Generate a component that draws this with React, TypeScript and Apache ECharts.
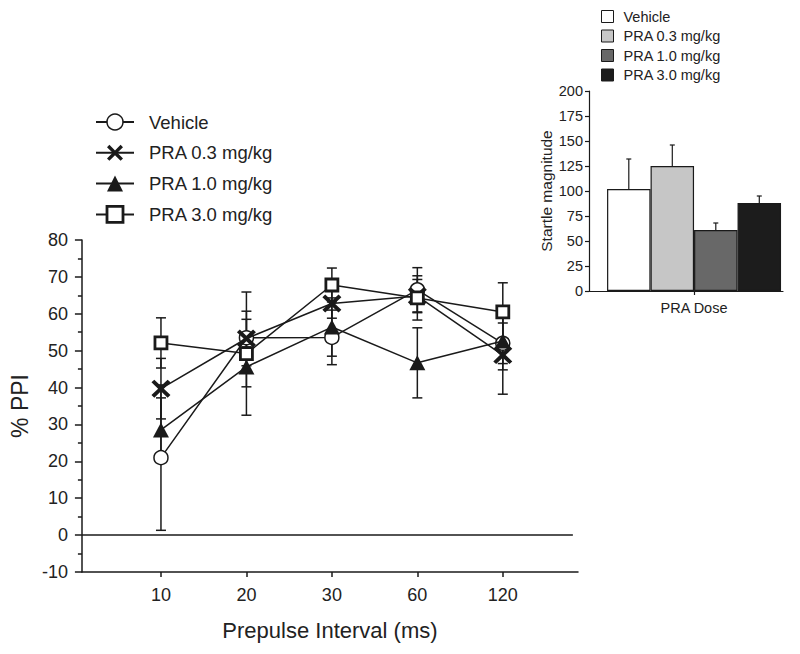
import React, { useEffect, useRef } from 'react';
import * as echarts from 'echarts';

// ---- data ----
const intervals = ['10', '20', '30', '60', '120'];
const seriesNames = ['Vehicle', 'PRA 0.3 mg/kg', 'PRA 1.0 mg/kg', 'PRA 3.0 mg/kg'];

const vehicleMean = [21, 53.5, 53.6, 66.5, 52];
const vehicleSem = [19.7, 5, 7.4, 6, 5.5];
const pra03Mean = [39.7, 53.3, 62.8, 64.8, 48.8];
const pra03Sem = [8.2, 7.4, 4, 4.5, 10.6];
const pra10Mean = [28.5, 45.6, 56.4, 46.7, 52.6];
const pra10Sem = [8.7, 5.4, 7.9, 9.5, 7.8];
const pra30Mean = [52.1, 49.2, 67.8, 64.3, 60.5];
const pra30Sem = [6.8, 16.7, 4.6, 6, 7.9];

const startleMean = [102, 125, 61, 88];
const startleSem = [30, 21, 7, 7];

// ---- styles ----
const FONT = 'Liberation Sans, Arial, Helvetica, sans-serif';
const INK = '#1a1a1a';
const startleColors = ['#ffffff', '#c6c6c6', '#686868', '#1c1c1c'];
const X_PATH =
  'path://M0,3 L3,0 L10,7 L17,0 L20,3 L13,10 L20,17 L17,20 L10,13 L3,20 L0,17 L7,10 Z';

const means = [vehicleMean, pra03Mean, pra10Mean, pra30Mean];
const sems = [vehicleSem, pra03Sem, pra10Sem, pra30Sem];

const symbolDefs = [
  { symbol: 'circle', symbolSize: 14, itemStyle: { color: '#ffffff', borderColor: INK, borderWidth: 1.5 } },
  { symbol: X_PATH, symbolSize: [19, 18], itemStyle: { color: INK, borderColor: INK, borderWidth: 0 } },
  { symbol: 'triangle', symbolSize: [16, 15], itemStyle: { color: INK, borderColor: INK, borderWidth: 0 } },
  { symbol: 'rect', symbolSize: 12, itemStyle: { color: '#ffffff', borderColor: INK, borderWidth: 2.8 } },
];

export default function App() {
  const ref = useRef<HTMLDivElement>(null);

  useEffect(() => {
    document.body.style.margin = '0';
    if (!ref.current) return;
    const chart = echarts.init(ref.current, null, { renderer: 'svg' });

    const errData: number[][] = [];
    means.forEach((m, s) => {
      m.forEach((v, i) => {
        errData.push([i + 1, v - sems[s][i], v + sems[s][i]]);
      });
    });

    const lineSeries = seriesNames.map((name, s) => ({
      name,
      type: 'line',
      xAxisIndex: 0,
      yAxisIndex: 0,
      data: means[s].map((v, i) => [i + 1, v]),
      symbol: symbolDefs[s].symbol,
      symbolSize: symbolDefs[s].symbolSize,
      itemStyle: symbolDefs[s].itemStyle,
      lineStyle: { color: INK, width: 1.5 },
      showAllSymbol: true,
      z: 3 + s,
      markLine:
        s === 0
          ? {
              silent: true,
              symbol: 'none',
              label: { show: false },
              lineStyle: { color: INK, width: 1.5, type: 'solid' },
              data: [[{ coord: [0.075, 0] }, { coord: [5.82, 0] }]],
            }
          : undefined,
    }));

    const option: any = {
      animation: false,
      backgroundColor: '#ffffff',
      textStyle: { fontFamily: FONT },
      grid: [
        { left: 76, top: 240, width: 502, height: 332, containLabel: false },
        { left: 589, top: 91, width: 194, height: 200, containLabel: false },
      ],
      legend: [
        {
          orient: 'vertical',
          left: 95,
          top: 112.5,
          padding: 0,
          itemWidth: 38,
          itemHeight: 20,
          itemGap: 11.8,
          selectedMode: false,
          textStyle: { fontSize: 18.5, color: '#222', fontFamily: FONT, padding: [0, 0, 0, 10] },
          data: seriesNames.map((name, i) => ({
            name,
            itemStyle: { borderWidth: symbolDefs[i].itemStyle.borderWidth },
          })),
        },
        {
          orient: 'vertical',
          left: 601,
          top: 9,
          padding: 0,
          itemWidth: 12,
          itemHeight: 12,
          itemGap: 4.5,
          selectedMode: false,
          textStyle: { fontSize: 14.5, color: '#222', fontFamily: FONT, padding: [0, 0, 0, 5] },
          data: seriesNames.map((name, i) => ({
            name,
            icon: 'rect',
            itemStyle: { color: startleColors[i], borderColor: INK, borderWidth: 1 },
          })),
        },
      ],
      xAxis: [
        {
          type: 'value',
          gridIndex: 0,
          min: 0.075,
          max: 5.88,
          name: 'Prepulse Interval (ms)',
          nameLocation: 'middle',
          nameGap: 47,
          nameTextStyle: { fontSize: 22, color: '#222', fontFamily: FONT },
          axisLine: { onZero: false, lineStyle: { color: INK, width: 1.5 } },
          axisTick: { show: true, length: 5, customValues: [1, 2, 3, 4, 5], lineStyle: { color: INK, width: 1.5 } },
          axisLabel: {
            customValues: [1, 2, 3, 4, 5],
            fontSize: 18,
            color: '#222',
            margin: 14,
            fontFamily: FONT,
            formatter: (v: number) => intervals[Math.round(v) - 1] ?? '',
          },
          splitLine: { show: false },
        },
        {
          type: 'value',
          gridIndex: 1,
          min: -0.915,
          max: 3.545,
          axisLine: { onZero: false, lineStyle: { color: INK, width: 1.2 } },
          axisTick: { show: true, length: 4, customValues: [1.5], lineStyle: { color: INK, width: 1.2 } },
          axisLabel: {
            customValues: [1.5],
            fontSize: 14.5,
            color: '#222',
            margin: 9,
            fontFamily: FONT,
            formatter: () => 'PRA Dose',
          },
          splitLine: { show: false },
        },
      ],
      yAxis: [
        {
          type: 'value',
          gridIndex: 0,
          min: -10,
          max: 80,
          interval: 10,
          name: '% PPI',
          nameLocation: 'middle',
          nameGap: 48,
          nameTextStyle: { fontSize: 23, color: '#222', fontFamily: FONT },
          axisLine: { show: true, onZero: false, lineStyle: { color: INK, width: 1.5 } },
          axisTick: { show: true, length: 7, lineStyle: { color: INK, width: 1.5 } },
          minorTick: { show: true, splitNumber: 2, length: 4, lineStyle: { color: INK, width: 1.5 } },
          axisLabel: { fontSize: 18, color: '#222', margin: 14, fontFamily: FONT },
          splitLine: { show: false },
          minorSplitLine: { show: false },
        },
        {
          type: 'value',
          gridIndex: 1,
          min: 0,
          max: 200,
          interval: 25,
          name: 'Startle magnitude',
          nameLocation: 'middle',
          nameGap: 34,
          nameTextStyle: { fontSize: 15.5, color: '#222', fontFamily: FONT },
          axisLine: { show: true, onZero: false, lineStyle: { color: INK, width: 1.2 } },
          axisTick: { show: true, length: 4, lineStyle: { color: INK, width: 1.2 } },
          axisLabel: { fontSize: 14.5, color: '#222', margin: 6, fontFamily: FONT },
          splitLine: { show: false },
        },
      ],
      series: [
        {
          name: 'SEM',
          type: 'custom',
          xAxisIndex: 0,
          yAxisIndex: 0,
          data: errData,
          encode: { x: 0, y: [1, 2] },
          z: 1,
          silent: true,
          renderItem: (params: any, api: any) => {
            const x = api.value(0);
            const lo = api.coord([x, api.value(1)]);
            const hi = api.coord([x, api.value(2)]);
            const cap = 5;
            const style = { stroke: INK, lineWidth: 1.5, fill: 'none' };
            return {
              type: 'group',
              children: [
                { type: 'line', shape: { x1: lo[0], y1: lo[1], x2: hi[0], y2: hi[1] }, style },
                { type: 'line', shape: { x1: lo[0] - cap, y1: lo[1], x2: lo[0] + cap, y2: lo[1] }, style },
                { type: 'line', shape: { x1: hi[0] - cap, y1: hi[1], x2: hi[0] + cap, y2: hi[1] }, style },
              ],
            };
          },
        },
        ...lineSeries,
        {
          name: 'Startle',
          type: 'bar',
          xAxisIndex: 1,
          yAxisIndex: 1,
          barWidth: 43.5,
          z: 2,
          data: startleMean.map((v, i) => ({
            value: [i, v],
            itemStyle: { color: startleColors[i], borderColor: INK, borderWidth: 1.2 },
          })),
        },
        {
          name: 'Startle SEM',
          type: 'custom',
          xAxisIndex: 1,
          yAxisIndex: 1,
          z: 3,
          silent: true,
          data: startleMean.map((v, i) => [i, v, v + startleSem[i]]),
          encode: { x: 0, y: [1, 2] },
          renderItem: (params: any, api: any) => {
            const x = api.value(0);
            const lo = api.coord([x, api.value(1)]);
            const hi = api.coord([x, api.value(2)]);
            const cap = 2.5;
            const style = { stroke: INK, lineWidth: 1.2, fill: 'none' };
            return {
              type: 'group',
              children: [
                { type: 'line', shape: { x1: lo[0], y1: lo[1], x2: hi[0], y2: hi[1] }, style },
                { type: 'line', shape: { x1: hi[0] - cap, y1: hi[1], x2: hi[0] + cap, y2: hi[1] }, style },
              ],
            };
          },
        },
      ],
    };

    chart.setOption(option);
    return () => chart.dispose();
  }, []);

  return <div ref={ref} style={{ width: 800, height: 654 }} />;
}
